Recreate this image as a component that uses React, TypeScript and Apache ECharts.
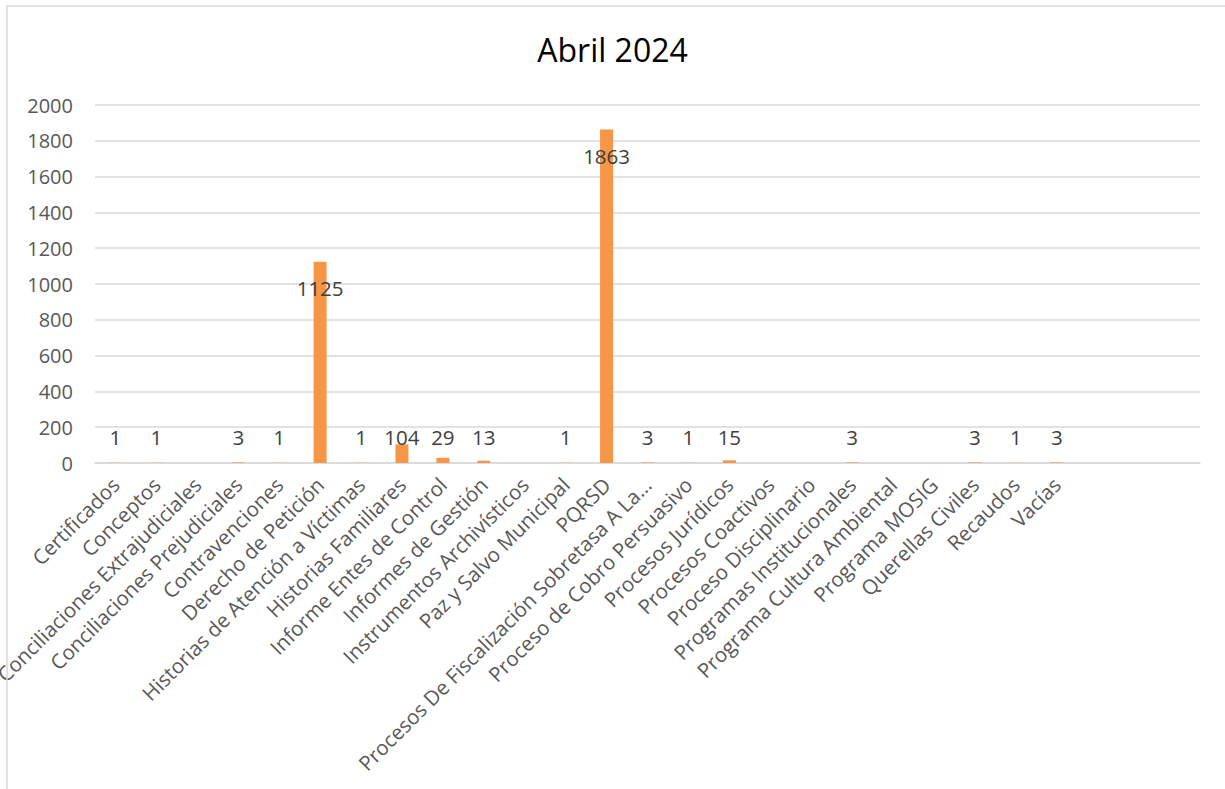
import React, { useEffect, useRef } from "react";
import * as echarts from "echarts";

const TITLE = "Abril 2024";

const categories: string[] = [
  "Certificados",
  "Conceptos",
  "Conciliaciones Extrajudiciales",
  "Conciliaciones Prejudiciales",
  "Contravenciones",
  "Derecho de Petición",
  "Historias de Atención a Víctimas",
  "Historias Familiares",
  "Informe Entes de Control",
  "Informes de Gestión",
  "Instrumentos Archivísticos",
  "Paz y Salvo Municipal",
  "PQRSD",
  "Procesos De Fiscalización Sobretasa A La...",
  "Proceso de Cobro Persuasivo",
  "Procesos Jurídicos",
  "Procesos Coactivos",
  "Proceso Disciplinario",
  "Programas Institucionales",
  "Programa Cultura Ambiental",
  "Programa MOSIG",
  "Querellas Civiles",
  "Recaudos",
  "Vacías",
  "",
  "",
  "",
];

const values: (number | null)[] = [
  1, 1, null, 3, 1, 1125, 1, 104, 29, 13, null, 1, 1863, 3, 1, 15, null, null, 3,
  null, null, 3, 1, 3, null, null, null,
];

const yTicks = { min: 0, max: 2000, interval: 200 };

const FONT = "'Open Sans', 'DejaVu Sans', sans-serif";

export default function App() {
  const ref = useRef<HTMLDivElement>(null);

  useEffect(() => {
    if (!ref.current) return;
    const chart = echarts.init(ref.current, undefined, { renderer: "svg" });
    const data = values.map((v) => {
      if (v === null) return { value: null };
      const big = v > 300;
      return {
        value: v,
        label: big
          ? { position: "insideTop", distance: 16 }
          : { position: "insideBottom", distance: 16 },
      };
    });
    chart.setOption({
      animation: false,
      backgroundColor: "#ffffff",
      textStyle: { fontFamily: FONT },
      title: {
        text: TITLE,
        left: "center",
        top: 28,
        textStyle: {
          fontFamily: FONT,
          fontSize: 32,
          fontWeight: "normal",
          color: "#000000",
        },
      },
      graphic: [
        {
          type: "rect",
          shape: { x: 7, y: 6, width: 1400, height: 1000 },
          style: { fill: "none", stroke: "#d9d9d9", lineWidth: 1.5 },
          silent: true,
          z: 100,
        },
      ],
      grid: {
        left: 95,
        right: 25,
        top: 105,
        bottom: 326,
        containLabel: false,
        outerBoundsMode: "none",
      },
      xAxis: {
        type: "category",
        data: categories,
        boundaryGap: true,
        axisTick: { show: false },
        axisLine: { lineStyle: { color: "#d9d9d9", width: 1.5 } },
        axisLabel: {
          interval: 0,
          rotate: 45,
          margin: 18,
          fontFamily: FONT,
          fontSize: 20.5,
          color: "#595959",
        },
      },
      yAxis: {
        type: "value",
        min: yTicks.min,
        max: yTicks.max,
        interval: yTicks.interval,
        axisLine: { show: false },
        axisTick: { show: false },
        splitLine: { lineStyle: { color: "#d9d9d9", width: 1.5 } },
        axisLabel: {
          margin: 22,
          fontFamily: FONT,
          fontSize: 20,
          color: "#595959",
          formatter: (v: number) => String(v),
        },
      },
      series: [
        {
          type: "bar",
          data,
          barWidth: 13,
          itemStyle: { color: "#F79646" },
          label: {
            show: true,
            fontFamily: FONT,
            fontSize: 20.5,
            color: "#404040",
          },
        },
      ],
    });
    return () => chart.dispose();
  }, []);

  return (
    <div
      ref={ref}
      style={{ position: "absolute", left: 0, top: 0, width: 1225, height: 789 }}
    />
  );
}
